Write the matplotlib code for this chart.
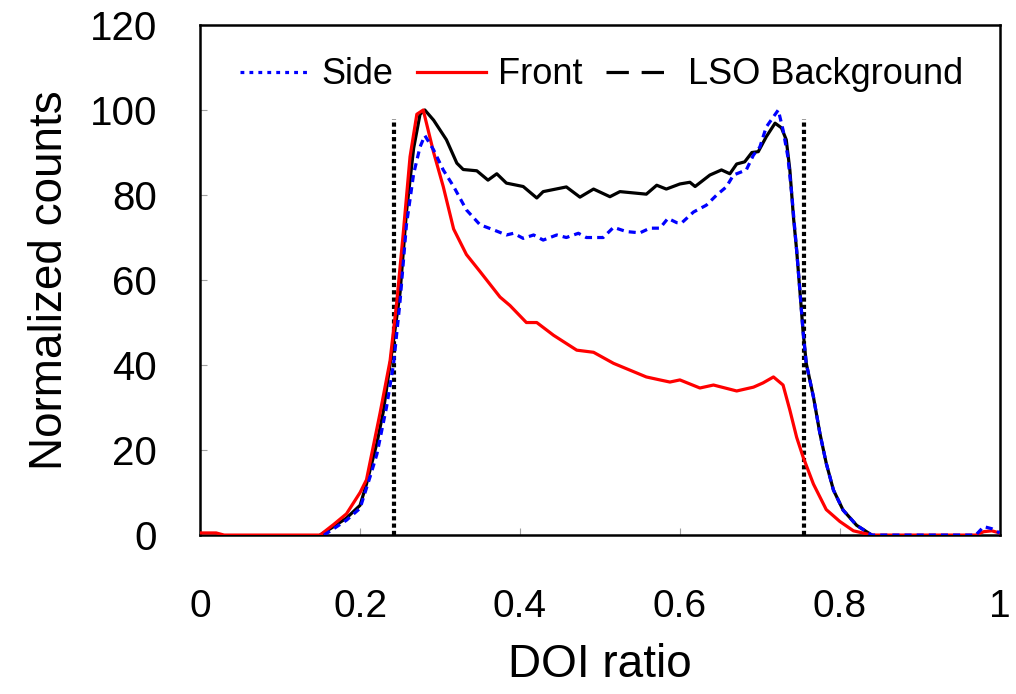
import matplotlib
matplotlib.use("Agg")
import matplotlib.pyplot as plt
from matplotlib.lines import Line2D

plt.rcParams['font.family'] = ['Liberation Sans', 'DejaVu Sans']

# ---- data ----
front_x = [0.0, 0.02, 0.03, 0.15, 0.167, 0.183, 0.2, 0.208, 0.225, 0.2375, 0.246, 0.254,
           0.2625, 0.271, 0.279, 0.292, 0.304, 0.317, 0.333, 0.35, 0.375, 0.3875, 0.408,
           0.421, 0.442, 0.471, 0.492, 0.517, 0.558, 0.575, 0.5875, 0.6, 0.625, 0.642,
           0.671, 0.692, 0.704, 0.717, 0.729, 0.7375, 0.746, 0.754, 0.767, 0.783, 0.8,
           0.817, 0.84, 0.97, 0.98, 0.99, 1.0]
front_y = [0.5, 0.5, 0, 0, 2.5, 5, 10, 13, 28.7, 41, 55, 71,
           89, 99, 100, 90, 82, 72, 66, 62, 56, 54, 50,
           50, 47, 43.5, 43, 40.4, 37.2, 36.5, 36, 36.5, 34.6, 35.3,
           33.9, 34.8, 35.8, 37.2, 35.3, 29.4, 23, 18.4, 12, 6, 3.2,
           1, 0, 0, 0.8, 1, 0.5]

lso_x = [0.15, 0.167, 0.183, 0.2, 0.208, 0.221, 0.229, 0.242, 0.25, 0.258, 0.267, 0.275,
         0.281, 0.292, 0.308, 0.321, 0.329, 0.346, 0.36, 0.371, 0.383, 0.404, 0.421, 0.429,
         0.458, 0.475, 0.492, 0.5125, 0.525, 0.558, 0.571, 0.583, 0.6, 0.6125, 0.619,
         0.6375, 0.652, 0.6625, 0.671, 0.681, 0.69, 0.698, 0.708, 0.719, 0.727, 0.733,
         0.7375, 0.742, 0.746, 0.75, 0.754, 0.758, 0.767, 0.775, 0.783, 0.792, 0.804,
         0.821, 0.84]
lso_y = [0, 2, 4, 7, 12, 21.6, 29, 46, 57, 76, 91, 99,
         100, 97.6, 93, 87.5, 86, 85.7, 83.5, 85, 82.8, 82, 79.3, 80.8,
         81.9, 79.5, 81.4, 79.6, 80.8, 80.2, 82.3, 81.4, 82.6, 83, 82,
         84.7, 85.9, 85, 87.3, 87.8, 90, 90.2, 93.7, 96.9, 95.8, 93,
         85.9, 74.8, 67, 57.6, 48, 40.4, 32.5, 24, 16.9, 10.6, 5.9,
         2.3, 0]

side_x = [0.155, 0.183, 0.2, 0.2125, 0.221, 0.233, 0.242, 0.25, 0.258, 0.267, 0.275,
          0.281, 0.292, 0.304, 0.317, 0.333, 0.35, 0.367, 0.383, 0.392, 0.404, 0.417,
          0.429, 0.446, 0.458, 0.473, 0.483, 0.504, 0.517, 0.533, 0.55, 0.5625, 0.575,
          0.585, 0.596, 0.602, 0.617, 0.633, 0.646, 0.658, 0.667, 0.683, 0.692, 0.7,
          0.708, 0.717, 0.723, 0.729, 0.735, 0.74, 0.746, 0.75, 0.754, 0.758, 0.767,
          0.775, 0.783, 0.792, 0.804, 0.821, 0.84, 0.97, 0.98, 0.99, 1.0]
side_y = [0, 3.5, 6.3, 13.7, 19, 30, 40.4, 55, 73, 85, 91.3,
          94, 90.6, 85.9, 82, 76.5, 73, 71.8, 70.6, 71, 69.8, 70.6,
          69.4, 70.6, 70, 71, 70, 70, 72.4, 71.4, 71.1, 72.2, 72.2,
          74.5, 73.5, 73.4, 76, 77.6, 80, 81.9, 84.7, 85.9, 89.4, 91.3,
          96, 98.4, 100, 95.3, 89, 80, 67, 57.6, 48, 40.4, 32.5,
          24, 16.9, 10.6, 5.9, 2.3, 0, 0, 2, 1.5, 0.5]

window_x = [0.2425, 0.755]
window_top = 98

x_ticks = [0, 0.2, 0.4, 0.6, 0.8, 1.0]
x_ticklabels = ['0', '0.2', '0.4', '0.6', '0.8', '1']
y_ticks = [0, 20, 40, 60, 80, 100, 120]

# ---- figure ----
fig = plt.figure(figsize=(10.16, 6.94), dpi=100)
ax = fig.add_axes([0.197, 0.229, 0.787, 0.735])

for wx in window_x:
    ax.plot([wx, wx], [0, window_top], color='black', lw=3.0,
            linestyle=(0, (1, 0.75)), solid_capstyle='butt', zorder=2)

ax.plot(lso_x, lso_y, color='black', lw=2.3, zorder=3)
ax.plot(front_x, front_y, color='#FF0000', lw=2.3, zorder=4)
ax.plot(side_x, side_y, color='#0000FF', lw=2.3, linestyle=(0, (2.2, 1.6)), zorder=5)

ax.set_xlim(0, 1)
ax.set_ylim(0, 120)
ax.set_xticks(x_ticks)
ax.set_xticklabels(x_ticklabels)
ax.set_yticks(y_ticks)
ax.tick_params(axis='x', direction='in', length=5, width=0.8, color='#A0A0A0',
               labelsize=28, pad=39)
ax.tick_params(axis='y', direction='in', length=5, width=0.8, color='#A0A0A0',
               labelsize=29, pad=31)
for s in ax.spines.values():
    s.set_linewidth(1.8)
    s.set_color('black')

ax.set_xlabel('DOI ratio', fontsize=33, labelpad=13)
ax.set_ylabel('Normalized counts', fontsize=33, labelpad=13)

handles = [
    Line2D([], [], color='#0000FF', lw=2.3, linestyle=(0, (1.2, 1.6))),
    Line2D([], [], color='#FF0000', lw=2.3),
    Line2D([], [], color='black', lw=2.3, linestyle=(0, (7, 4))),
]
ax.legend(handles, ['Side', 'Front', 'LSO Background'], loc='center',
          bbox_to_anchor=(0.502, 0.902), ncol=3, frameon=False, fontsize=26,
          handlelength=1.9, handletextpad=0.35, columnspacing=0.65,
          borderpad=0, borderaxespad=0)

fig.savefig('out.png', dpi=100)
